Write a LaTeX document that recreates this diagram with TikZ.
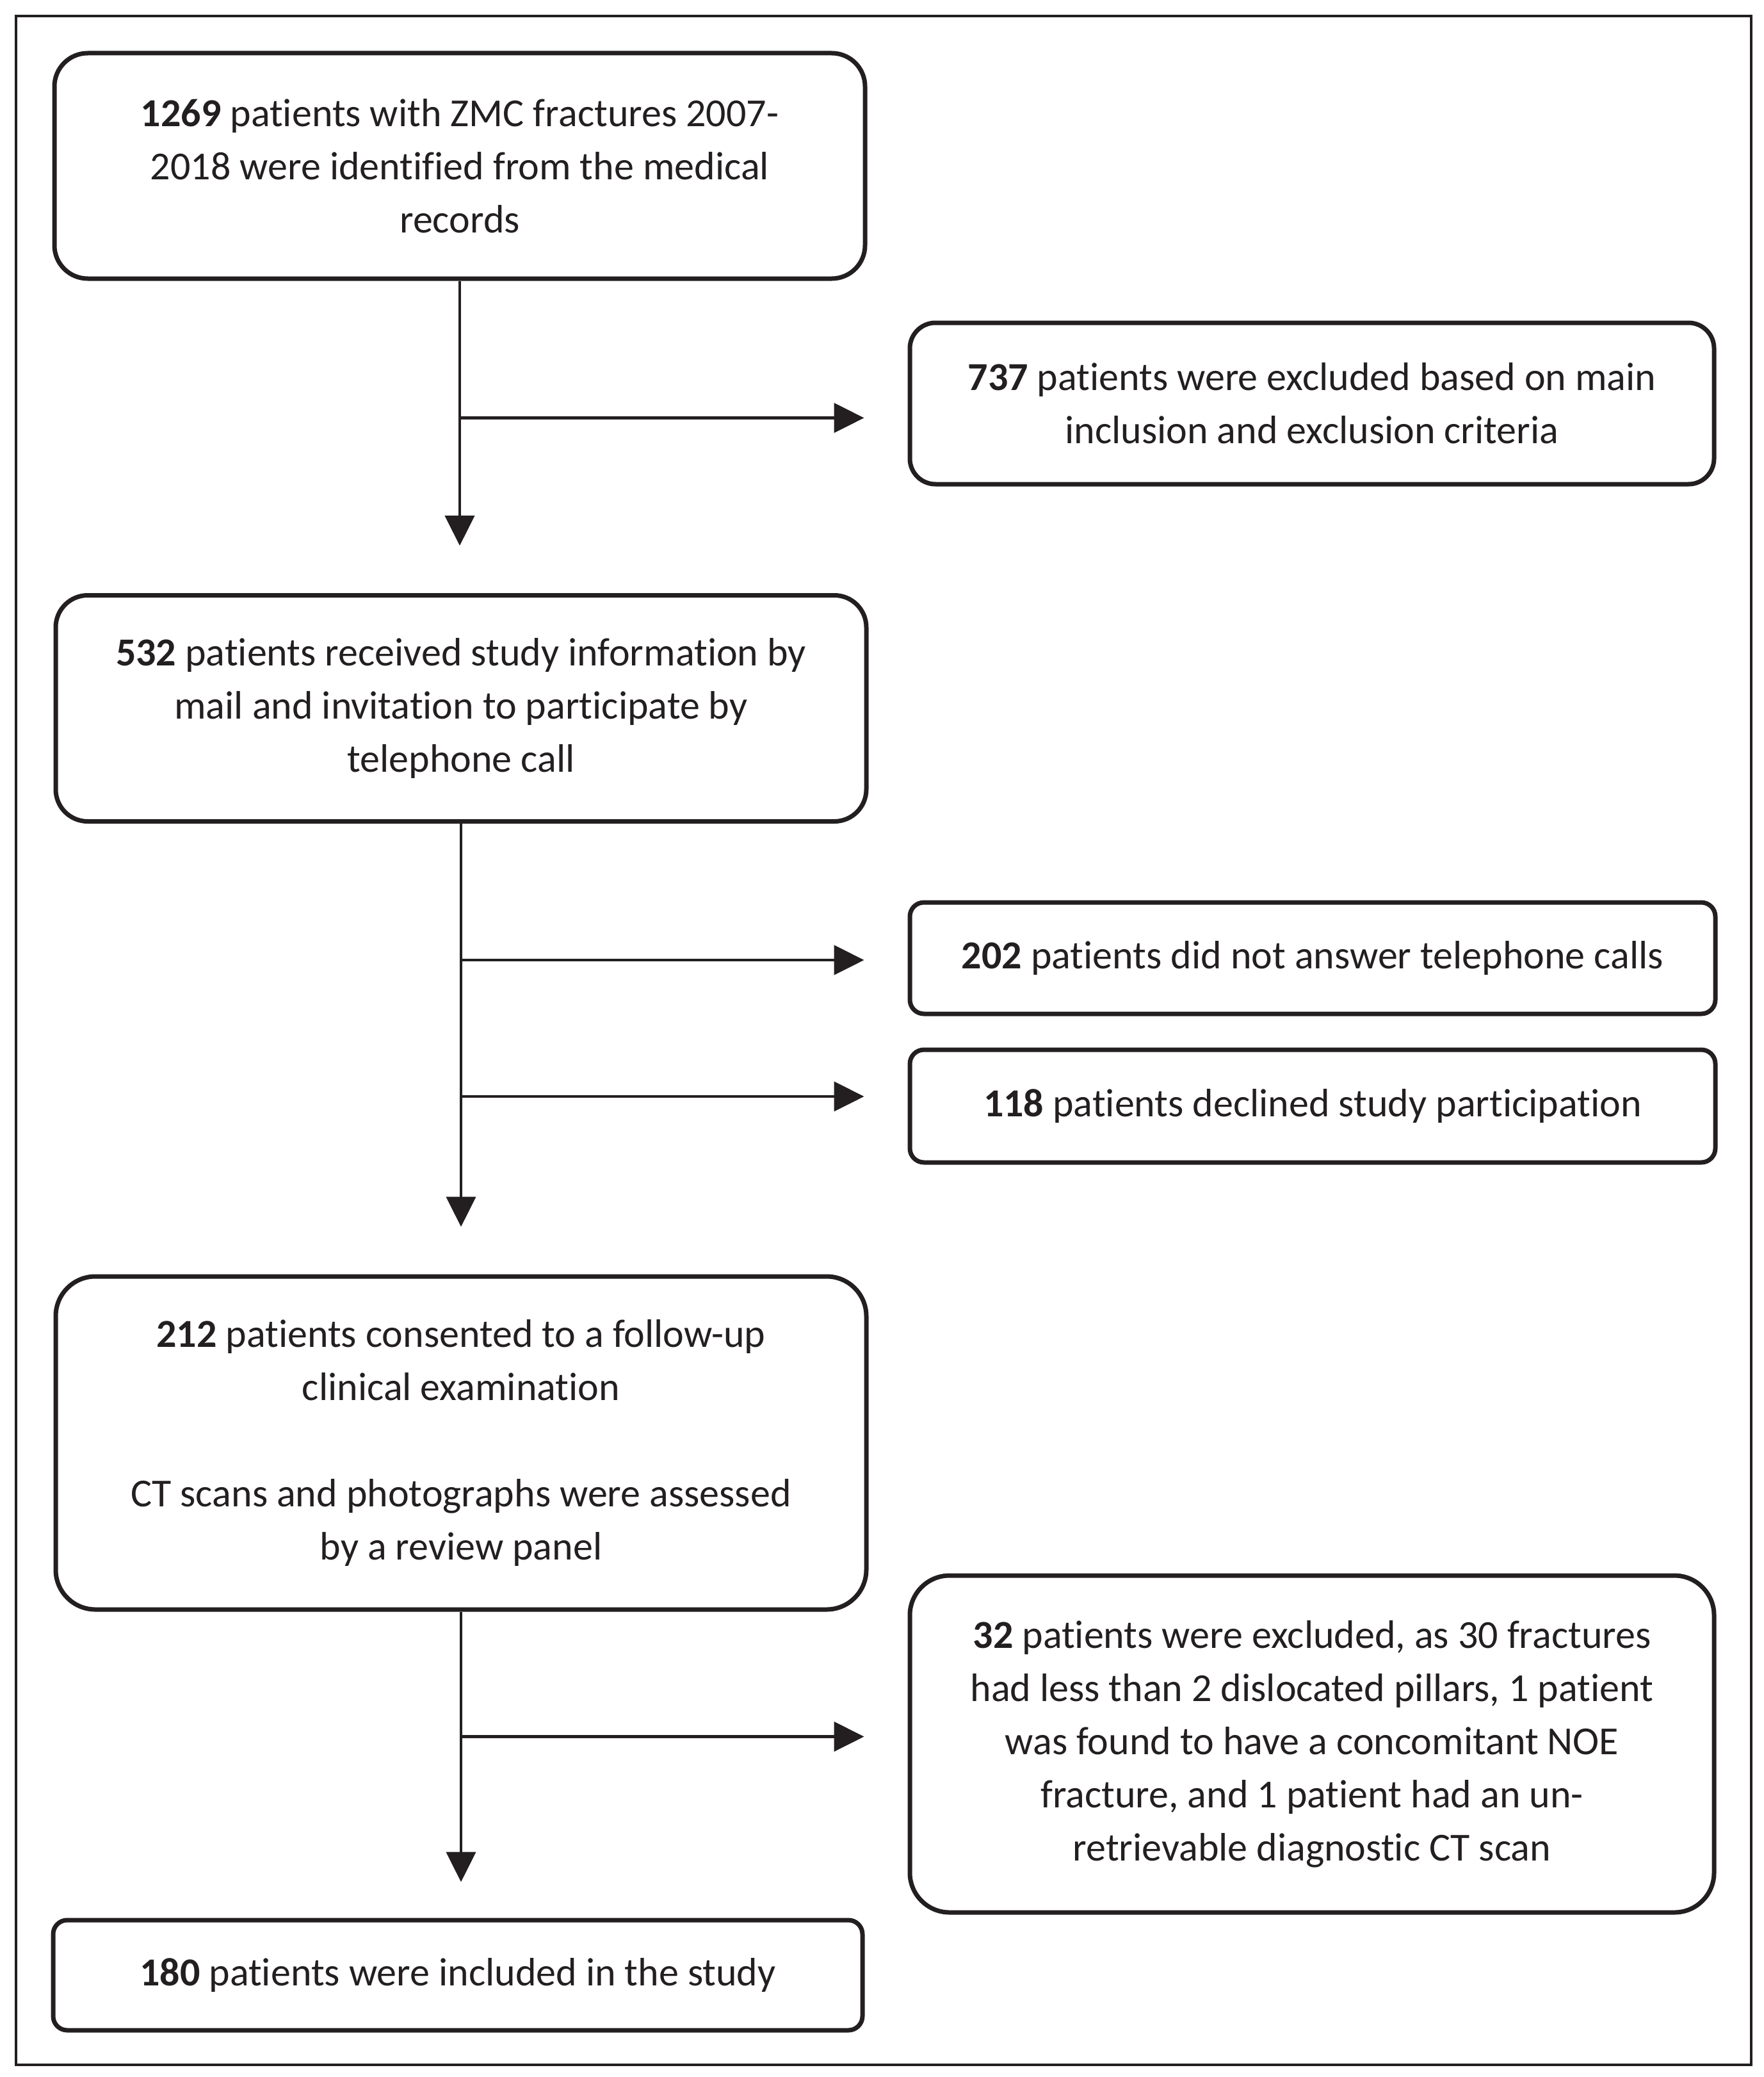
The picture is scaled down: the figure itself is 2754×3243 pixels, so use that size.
\documentclass[tikz,border=0pt]{standalone}
\usepackage{fontspec}
\setmainfont[Ligatures={NoCommon}]{Carlito}
\usetikzlibrary{arrows.meta}
\definecolor{ink}{RGB}{35,31,32}
\begin{document}
\begin{tikzpicture}[x=1pt,y=-1pt,
  box/.style={draw=ink, text=ink, line width=7pt, rounded corners=#1, align=center,
    inner sep=0pt, font=\fontsize{62}{83}\selectfont},
  box/.default=40pt,
  arr/.style={draw=ink, line width=4.5pt, -{Triangle[length=47pt,width=46pt]}},
  ln/.style={draw=ink, line width=4.5pt}]
\useasboundingbox (0,0) rectangle (2754,3243);
\draw[draw=ink, line width=4pt] (25,25) rectangle (2735,3224);

\node[box=52pt, minimum width=1266pt, minimum height=352pt] (b1) at (718,259)
  {\textbf{1269} patients with ZMC fractures 2007-\\2018 were identified from the medical\\records};
\node[box=40pt, minimum width=1256pt, minimum height=252pt] (b2) at (2049,630)
  {\textbf{737} patients were excluded based on main\\inclusion and exclusion criteria};
\node[box=50pt, minimum width=1266pt, minimum height=353pt] (b3) at (720,1106)
  {\textbf{532} patients received study information by\\mail and invitation to participate by\\telephone call};
\node[box=22pt, minimum width=1258pt, minimum height=174pt] (b4) at (2050,1496)
  {\textbf{202} patients did not answer telephone calls};
\node[box=22pt, minimum width=1258pt, minimum height=176pt] (b5) at (2050,1727)
  {\textbf{118} patients declined study participation};
\node[box=62pt, minimum width=1266pt, minimum height=520pt] (b6) at (720,2253)
  {\textbf{212} patients consented to a follow-up\\clinical examination\\[83pt]CT scans and photographs were assessed\\by a review panel};
\node[box=62pt, minimum width=1256pt, minimum height=526pt] (b7) at (2049,2723)
  {\textbf{32} patients were excluded, as 30 fractures\\had less than 2 dislocated pillars, 1 patient\\was found to have a concomitant NOE\\fracture, and 1 patient had an un-\\retrievable diagnostic CT scan};
\node[box=22pt, minimum width=1264pt, minimum height=172pt] (b8) at (715,3084)
  {\textbf{180} patients were included in the study};

% vertical flow
\draw[arr, shorten >=74pt] (b1.south) -- (b1.south |- b3.north);
\draw[arr, shorten >=74pt] (b3.south) -- (b3.south |- b6.north);
\draw[arr, shorten >=56pt] (b6.south) -- (b6.south |- b8.north);

% side branches
\coordinate (j1) at ([yshift=-214pt]b1.south);
\coordinate (j2) at ([yshift=-213pt]b3.south);
\coordinate (j3) at ([yshift=-426pt]b3.south);
\coordinate (j4) at ([yshift=-195pt]b6.south);
\draw[arr, shorten >=68pt] (j1) -- (j1 -| b2.west);
\draw[arr, shorten >=68pt] (j2) -- (j2 -| b4.west);
\draw[arr, shorten >=68pt] (j3) -- (j3 -| b5.west);
\draw[arr, shorten >=68pt] (j4) -- (j4 -| b7.west);
\end{tikzpicture}
\end{document}
